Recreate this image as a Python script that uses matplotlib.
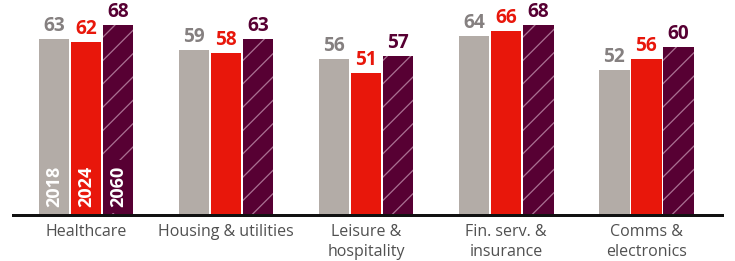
import numpy as np
import matplotlib
matplotlib.use("Agg")
import matplotlib.pyplot as plt

categories = ["Healthcare", "Housing & utilities", "Leisure &\nhospitality",
              "Fin. serv. &\ninsurance", "Comms &\nelectronics"]
years = ["2018", "2024", "2060"]
v2018 = [63, 59, 56, 64, 52]
v2024 = [62, 58, 51, 66, 56]
v2060 = [68, 63, 57, 68, 60]

DPI = 140
def px(p):
    # pixel size -> points at this dpi
    return p * 72 / DPI

gray = "#B3ACA7"
red = "#E8170B"
purple = "#570033"
hatch_col = "#A86E90"
label_cols = ["#858080", red, purple]

plt.rcParams["font.family"] = ["Open Sans", "DejaVu Sans"]
plt.rcParams["hatch.linewidth"] = px(1.3)

fig = plt.figure(figsize=(735 / DPI, 261 / DPI), dpi=DPI)
ax = fig.add_axes([13 / 735, 46 / 261, 709 / 735, 215 / 261])

x = np.arange(len(categories))
step = 32 / 140
w = 30.5 / 140
series = [v2018, v2024, v2060]

for i, vals in enumerate(series):
    pos = x + (i - 1) * step
    if i == 2:
        ax.bar(pos, vals, w, color=purple, edgecolor=hatch_col, hatch="//", linewidth=0)
    else:
        ax.bar(pos, vals, w, color=[gray, red][i], linewidth=0)
    for xp, v in zip(pos, vals):
        ax.annotate(str(v), (xp, v), xytext=(0, px(3)), textcoords="offset points",
                    ha="center", va="bottom", fontsize=px(19), fontweight="bold",
                    color=label_cols[i])
    # year label inside first group
    ax.annotate(years[i], (pos[0], 0), xytext=(0, px(8)), textcoords="offset points",
                ha="center", va="bottom", rotation=90, fontsize=px(18),
                fontweight="bold", color="white",
                bbox=dict(facecolor=[gray, red, purple][i], edgecolor="none", pad=px(6)))

ax.set_xlim(-0.52, 4.54)
ax.set_ylim(0, 77)
ax.set_yticks([])
ax.set_xticks(x)
ax.set_xticklabels(categories, fontsize=px(16), color="#505050", linespacing=1.3)
ax.tick_params(axis="x", length=0, pad=px(9))
for s in ["top", "right", "left"]:
    ax.spines[s].set_visible(False)
ax.spines["bottom"].set_linewidth(px(3))
ax.spines["bottom"].set_color("#111111")

fig.savefig("out.png", dpi=DPI)
